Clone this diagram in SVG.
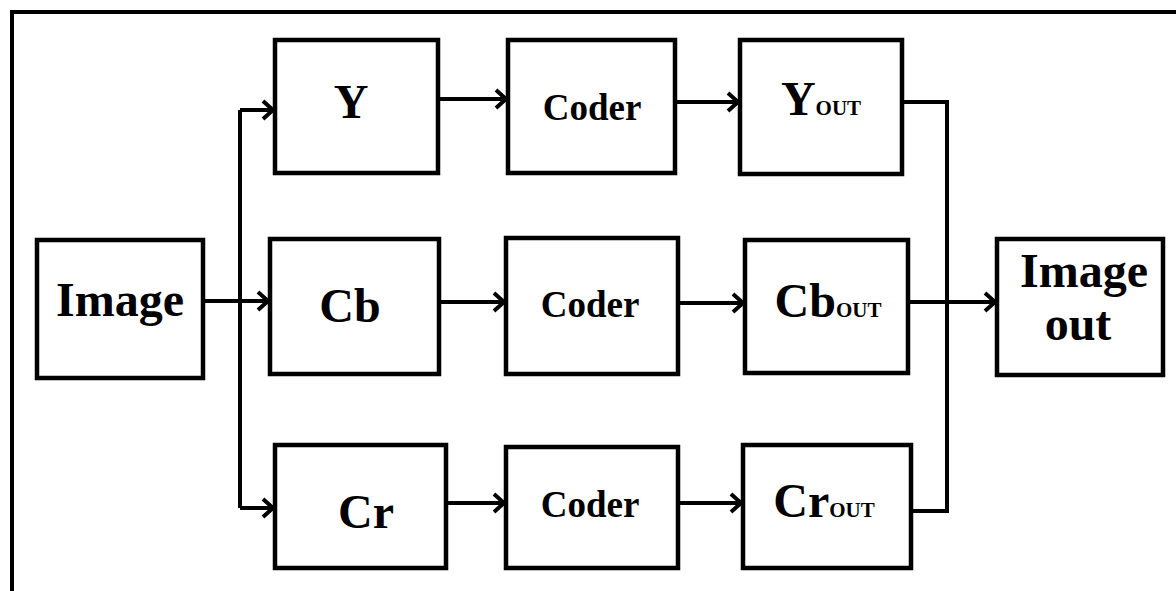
<svg xmlns="http://www.w3.org/2000/svg" width="1176" height="591" viewBox="0 0 1176 591">
<style>
.box{fill:#fff;stroke:#000;stroke-width:4.5}
.ln{fill:none;stroke:#000;stroke-width:4}
.t{font-family:"Liberation Serif","Times New Roman",serif;font-weight:bold;fill:#000;text-anchor:middle}
.big{font-size:48px}
.cod{font-size:37px}
.sub{font-size:21px}
</style>
<defs>
<marker id="ah" viewBox="-13 -12 16 24" markerWidth="16" markerHeight="24" refX="0" refY="0" orient="auto" markerUnits="userSpaceOnUse">
<path d="M-10,-9 L0,0 L-10,9" fill="none" stroke="#000" stroke-width="4"/>
</marker>
</defs>
<rect width="1176" height="591" fill="#fff"/>
<path class="ln" d="M12,591 L12,12 L1176,12" stroke-width="5"/>
<g id="connectors">
<path class="ln" d="M203,301 L268,301" marker-end="url(#ah)"/>
<path class="ln" d="M240,508 L240,110"/>
<path class="ln" d="M240,110 L273,110" marker-end="url(#ah)"/>
<path class="ln" d="M240,508 L273,508" marker-end="url(#ah)"/>
<path class="ln" d="M438,99 L506,99" marker-end="url(#ah)"/>
<path class="ln" d="M439,302 L504,302" marker-end="url(#ah)"/>
<path class="ln" d="M446,503 L504,503" marker-end="url(#ah)"/>
<path class="ln" d="M675,102 L738,102" marker-end="url(#ah)"/>
<path class="ln" d="M678,303 L743,303" marker-end="url(#ah)"/>
<path class="ln" d="M678,503 L741,503" marker-end="url(#ah)"/>
<path class="ln" d="M902,102 L947,102 L947,511 L911,511"/>
<path class="ln" d="M908,302 L995,302" marker-end="url(#ah)"/>
</g>
<g id="image">
<rect class="box" x="37" y="240" width="166" height="138"/>
<text class="t big" x="120" y="316">Image</text>
</g>
<g id="y">
<rect class="box" x="275" y="40" width="163" height="133"/>
<text class="t big" x="351" y="118">Y</text>
</g>
<g id="cb">
<rect class="box" x="270" y="239" width="169" height="135"/>
<text class="t big" x="350" y="322">Cb</text>
</g>
<g id="cr">
<rect class="box" x="275" y="445" width="171" height="123"/>
<text class="t big" x="366" y="528">Cr</text>
</g>
<g id="coder1">
<rect class="box" x="508" y="40" width="167" height="133"/>
<text class="t cod" x="592" y="120">Coder</text>
</g>
<g id="coder2">
<rect class="box" x="506" y="238" width="172" height="136"/>
<text class="t cod" x="590" y="317">Coder</text>
</g>
<g id="coder3">
<rect class="box" x="506" y="447" width="172" height="121"/>
<text class="t cod" x="590" y="517">Coder</text>
</g>
<g id="yout">
<rect class="box" x="740" y="40" width="162" height="134"/>
<text class="t big" x="821" y="115">Y<tspan class="sub" font-size="19px">OUT</tspan></text>
</g>
<g id="cbout">
<rect class="box" x="745" y="240" width="163" height="133"/>
<text class="t big" x="828" y="317">Cb<tspan class="sub">OUT</tspan></text>
</g>
<g id="crout">
<rect class="box" x="743" y="445" width="168" height="123"/>
<text class="t big" x="824" y="517">Cr<tspan class="sub">OUT</tspan></text>
</g>
<g id="imageout">
<rect class="box" x="997" y="239" width="166" height="136"/>
<text class="t big" x="1084" y="287">Image</text>
<text class="t big" x="1078" y="340">out</text>
</g>
</svg>
